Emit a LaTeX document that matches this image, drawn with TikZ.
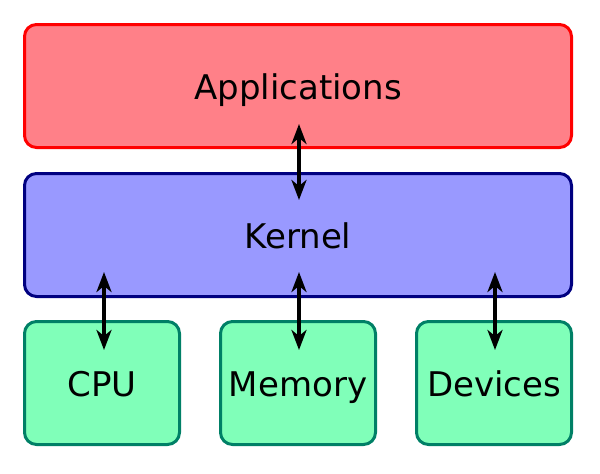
\documentclass[tikz,border=0pt]{standalone}
\usepackage{fontspec}
\setmainfont{DejaVu Sans}
\usetikzlibrary{arrows.meta}
\definecolor{appfill}{RGB}{255,128,136}
\definecolor{appdraw}{RGB}{255,0,0}
\definecolor{kerfill}{RGB}{153,153,255}
\definecolor{kerdraw}{RGB}{0,0,128}
\definecolor{hwfill}{RGB}{128,255,185}
\definecolor{hwdraw}{RGB}{0,128,102}
\begin{document}
\begin{tikzpicture}[x=1pt,y=-1pt,
  layer/.style={rounded corners=12pt, line width=3pt, inner sep=0pt,
    text height=30pt, text depth=4pt,
    font=\fontsize{34}{40}\selectfont},
  wide/.style={layer, minimum width=547pt, minimum height=123pt},
  hw/.style={layer, minimum width=155pt, minimum height=123pt, fill=hwfill, draw=hwdraw},
  arr/.style={line width=4.5pt, {Stealth[length=20pt,width=15pt,inset=6pt]}-{Stealth[length=20pt,width=15pt,inset=6pt]}}
]
\useasboundingbox (0,0) rectangle (600,474);
\node[wide, fill=appfill, draw=appdraw] (app) at (298,86) {Applications};
\node[wide, fill=kerfill, draw=kerdraw] (ker) at (298,235) {Kernel};
\node[hw] (cpu) at (102,383) {CPU};
\node[hw] (mem) at (298,383) {Memory};
\node[hw] (dev) at (494,383) {Devices};
\draw[arr] ([xshift=1pt,yshift=25pt]app.south) -- ([xshift=1pt,yshift=-28pt]ker.north);
\draw[arr] ([xshift=2pt,yshift=26pt]cpu.north |- ker.south) -- ([xshift=2pt,yshift=-30pt]cpu.north);
\draw[arr] ([xshift=1pt,yshift=26pt]mem.north |- ker.south) -- ([xshift=1pt,yshift=-30pt]mem.north);
\draw[arr] ([xshift=1pt,yshift=26pt]dev.north |- ker.south) -- ([xshift=1pt,yshift=-30pt]dev.north);
\end{tikzpicture}
\end{document}
